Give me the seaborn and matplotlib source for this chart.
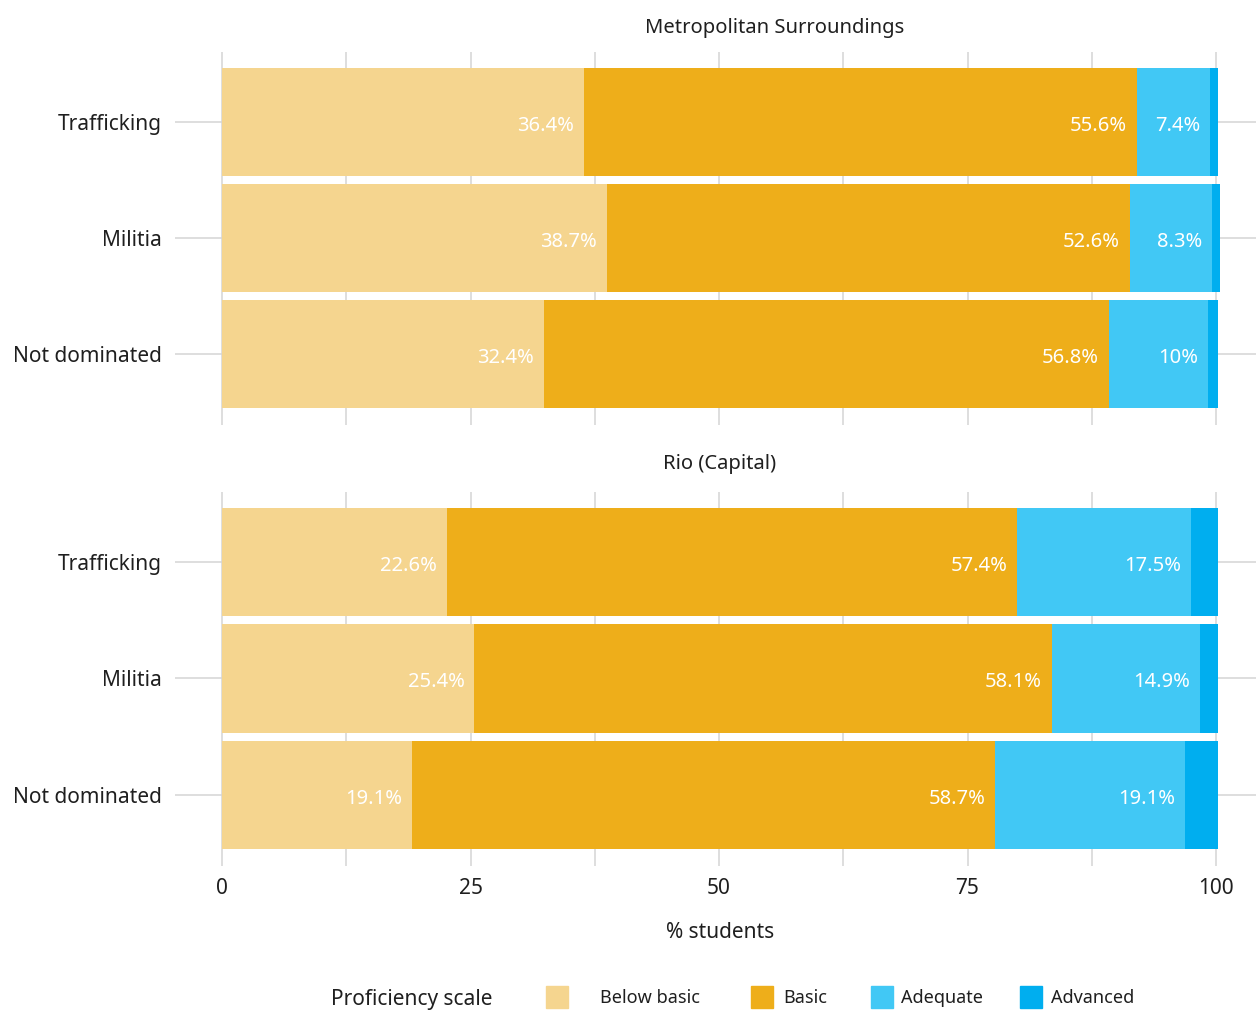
import numpy as np
import pandas as pd

import matplotlib
matplotlib.use("Agg")
import matplotlib.pyplot as plt
from matplotlib.patches import Rectangle
import seaborn as sns


regions = ["Metropolitan Surroundings", "Rio (Capital)"]
groups = ["Trafficking", "Militia", "Not dominated"]
levels = ["Below basic", "Basic", "Adequate", "Advanced"]
colors = ["#F5D58F", "#EEAE1A", "#41C8F5", "#00AEEF"]

# rows = groups, columns = levels
metro_values = [
    [36.4, 55.6, 7.4, 0.8],
    [38.7, 52.6, 8.3, 0.8],
    [32.4, 56.8, 10.0, 1.0],
]
rio_values = [
    [22.6, 57.4, 17.5, 2.7],
    [25.4, 58.1, 14.9, 1.8],
    [19.1, 58.7, 19.1, 3.3],
]
label_text = {
    "Metropolitan Surroundings": [
        ["36.4%", "55.6%", "7.4%"],
        ["38.7%", "52.6%", "8.3%"],
        ["32.4%", "56.8%", "10%"],
    ],
    "Rio (Capital)": [
        ["22.6%", "57.4%", "17.5%"],
        ["25.4%", "58.1%", "14.9%"],
        ["19.1%", "58.7%", "19.1%"],
    ],
}

sns.set_theme(style="white")
plt.rcParams["font.family"] = ["Noto Sans", "DejaVu Sans"]
text_color = "#1f1f1f"
grid_color = "#d4d4d4"

W, H = 1256, 1010
fig = plt.figure(figsize=(W / 100, H / 100), dpi=100)


def px_axes(x0, y0, x1, y1):
    return fig.add_axes([x0 / W, 1 - y1 / H, (x1 - x0) / W, (y1 - y0) / H])


ax_top = px_axes(175, 52, 1256, 425)
ax_bot = px_axes(175, 492, 1256, 866)

for ax, region, values in [(ax_top, regions[0], metro_values), (ax_bot, regions[1], rio_values)]:
    df = pd.DataFrame(values, index=groups, columns=levels)
    cum = df.cumsum(axis=1)

    # gridlines behind the bars
    for xv in np.arange(0, 100.1, 12.5):
        ax.axvline(xv, color=grid_color, lw=1.1, zorder=0)
    for yv in range(len(groups)):
        ax.axhline(yv, color=grid_color, lw=1.1, zorder=0)

    # stacked bars: draw cumulative totals from the last level back to the first
    for lvl, col in reversed(list(zip(levels, colors))):
        sns.barplot(
            x=cum[lvl].values,
            y=groups,
            orient="h",
            color=col,
            width=0.93,
            saturation=1,
            linewidth=0,
            ax=ax,
            zorder=2,
        )

    for i, g in enumerate(groups):
        for j in range(3):
            ax.text(
                cum.iloc[i, j] - 1.0, i + 0.035, label_text[region][i][j],
                ha="right", va="center", color="white", fontsize=14.5, zorder=5,
            )

    ax.set_xlim(-4.73, 104.02)
    ax.set_ylim(2.61, -0.6)
    ax.set_xlabel("")
    ax.set_ylabel("")
    for s in ax.spines.values():
        s.set_visible(False)
    ax.set_xticks([0, 25, 50, 75, 100])
    ax.tick_params(axis="both", length=0, colors=text_color, labelsize=15)
    ax.tick_params(axis="y", pad=9.5)
    ax.tick_params(axis="x", pad=9)
    ax.grid(False)

ax_top.set_xticklabels([])

fig.text(775 / W, 1 - 28 / H, regions[0], ha="center", va="center", fontsize=14.5, color=text_color)
fig.text(720 / W, 1 - 464 / H, regions[1], ha="center", va="center", fontsize=14.5, color=text_color)
fig.text(720 / W, 1 - 932 / H, "% students", ha="center", va="center", fontsize=15, color=text_color)

# legend
fig.text(331 / W, 1 - 999 / H, "Proficiency scale", ha="left", va="center", fontsize=15, color=text_color)
patch_x = [546, 751, 871, 1020]
label_x = [600, 783, 901, 1051]
for lvl, col, px, lx in zip(levels, colors, patch_x, label_x):
    fig.patches.append(Rectangle((px / W, 1 - 1008 / H), 22 / W, 22 / H,
                                 transform=fig.transFigure, color=col, figure=fig))
    fig.text(lx / W, 1 - 998 / H, lvl, ha="left", va="center", fontsize=13, color=text_color)

fig.savefig("out.png", dpi=100)
